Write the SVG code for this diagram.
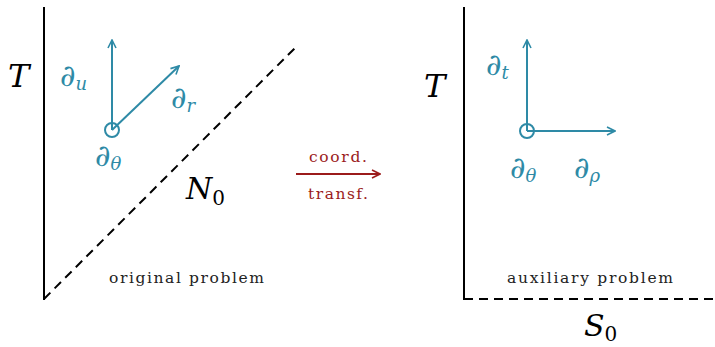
<svg xmlns="http://www.w3.org/2000/svg" width="715" height="347" viewBox="0 0 715 347">
<defs>
<marker id="ab" viewBox="0 0 10 10" refX="9" refY="5" markerWidth="10" markerHeight="10" markerUnits="userSpaceOnUse" orient="auto">
<path d="M1,1 L9,5 L1,9" fill="none" stroke="#2e8aa6" stroke-width="1.6"/>
</marker>
<marker id="ar" viewBox="0 0 10 10" refX="9" refY="5" markerWidth="10" markerHeight="10" markerUnits="userSpaceOnUse" orient="auto">
<path d="M1,1 L9,5 L1,9" fill="none" stroke="#9b1b1b" stroke-width="1.6"/>
</marker>
<style>
.ax{stroke:#000;stroke-width:2;fill:none}
.da{stroke:#000;stroke-width:2;fill:none;stroke-dasharray:9 6}
.bl{stroke:#2e8aa6;stroke-width:2;fill:none}
.m{font-family:"DejaVu Serif",serif;font-style:italic;fill:#000}
.mb{font-family:"DejaVu Serif",serif;font-style:italic;fill:#2e8aa6}
.sb{font-size:18px}
.lab{font-family:"DejaVu Serif",serif;font-size:15.5px;fill:#222}
.red{font-family:"DejaVu Serif",serif;font-size:15.5px;fill:#9b1b1b}
</style>
</defs>
<g id="left-panel">
<line class="ax" x1="44" y1="7" x2="44" y2="300"/>
<line class="da" x1="44" y1="299" x2="297" y2="46"/>
<text class="m" x="8" y="87" font-size="32">T</text>
<text class="m" x="186" y="199" font-size="30">N<tspan font-style="normal" font-size="20" dy="6">0</tspan></text>
<text class="lab" x="109" y="283" textLength="155" lengthAdjust="spacing">original problem</text>
</g>
<g id="left-vectors">
<circle class="bl" cx="112" cy="130" r="7"/>
<line class="bl" x1="112" y1="130" x2="112" y2="40" marker-end="url(#ab)"/>
<line class="bl" x1="112" y1="130" x2="179" y2="66" marker-end="url(#ab)"/>
<text class="mb" x="60" y="86" font-size="30">∂<tspan class="sb" dy="4">u</tspan></text>
<text class="mb" x="171" y="108" font-size="30">∂<tspan class="sb" dy="4">r</tspan></text>
<text class="mb" x="95" y="166" font-size="30">∂<tspan class="sb" dy="4">θ</tspan></text>
</g>
<g id="connectors">
<line x1="296" y1="174" x2="380" y2="174" stroke="#9b1b1b" stroke-width="2" marker-end="url(#ar)"/>
<text class="red" x="309" y="162" textLength="58" lengthAdjust="spacing">coord.</text>
<text class="red" x="308" y="199" textLength="60" lengthAdjust="spacing">transf.</text>
</g>
<g id="right-panel">
<line class="ax" x1="464" y1="7" x2="464" y2="300"/>
<line class="da" x1="464" y1="299" x2="715" y2="299"/>
<text class="m" x="424" y="97" font-size="32">T</text>
<text class="m" x="584" y="336" font-size="30">S<tspan font-style="normal" font-size="20" dy="5">0</tspan></text>
<text class="lab" x="507" y="283" textLength="166" lengthAdjust="spacing">auxiliary problem</text>
</g>
<g id="right-vectors">
<circle class="bl" cx="527" cy="131" r="7"/>
<line class="bl" x1="527" y1="131" x2="527" y2="40" marker-end="url(#ab)"/>
<line class="bl" x1="527" y1="131" x2="615" y2="131" marker-end="url(#ab)"/>
<text class="mb" x="486" y="75" font-size="30">∂<tspan class="sb" dy="4">t</tspan></text>
<text class="mb" x="510" y="178" font-size="30">∂<tspan class="sb" dy="4">θ</tspan></text>
<text class="mb" x="574" y="178" font-size="30">∂<tspan class="sb" dy="4">ρ</tspan></text>
</g>
</svg>
